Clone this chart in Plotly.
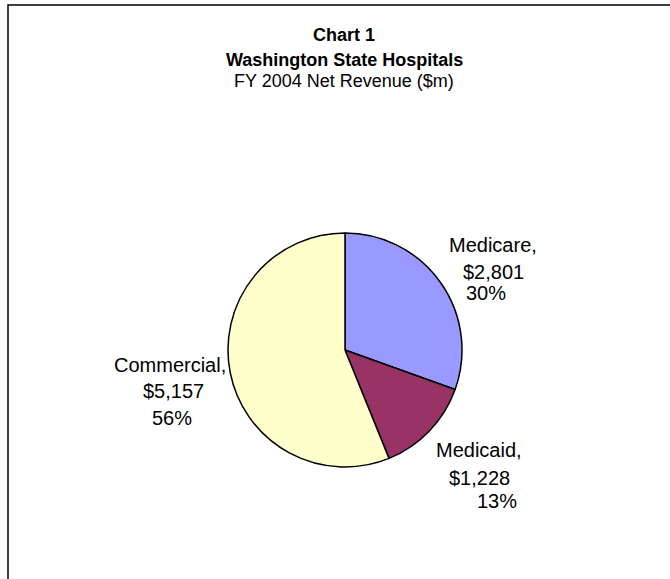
import plotly.graph_objects as go

# FY 2004 net revenue by payer, $ millions
payers = ["Medicare", "Medicaid", "Commercial"]
revenue = [2801, 1228, 5157]
colors = ["#9999FF", "#993366", "#FFFFCC"]

title_lines = ["<b>Chart 1</b>", "<b>Washington State Hospitals</b>", "FY 2004 Net Revenue ($m)"]

W, H = 670, 579
FONT = "Liberation Sans, Arial, sans-serif"

# pie centre and radius in pixels
cx, cy, r = 345, 350, 117

fig = go.Figure()
fig.add_trace(go.Pie(
    labels=payers,
    values=revenue,
    sort=False,
    direction="clockwise",
    rotation=0,
    marker=dict(colors=colors, line=dict(color="black", width=1.5)),
    textinfo="none",
    hoverinfo="label+value+percent",
    showlegend=False,
    domain=dict(x=[(cx - r) / W, (cx + r) / W], y=[1 - (cy + r) / H, 1 - (cy - r) / H]),
))

def px(x):
    return x / W

def py(y):
    return 1 - y / H

annotations = []
# title block
for text, y in zip(title_lines, [35, 60, 81.5]):
    annotations.append(dict(text=text, x=px(344), y=py(y), xref="paper", yref="paper",
                            xanchor="center", yanchor="middle", showarrow=False,
                            font=dict(family=FONT, size=18, color="black")))

total = sum(revenue)
# line centres (x, y) for each payer label: name, amount, percent
label_pos = {
    "Medicare": [(493, 245), (493, 272), (486, 293)],
    "Medicaid": [(479, 450), (479, 478), (497, 501)],
    "Commercial": [(170, 365), (173, 391), (172, 418)],
}
for name, val in zip(payers, revenue):
    lines = [f"{name},", f"${val:,}", f"{round(100 * val / total)}%"]
    for text, (x, y) in zip(lines, label_pos[name]):
        annotations.append(dict(text=text, x=px(x), y=py(y), xref="paper", yref="paper",
                                xanchor="center", yanchor="middle", showarrow=False,
                                font=dict(family=FONT, size=20, color="black")))

fig.update_layout(
    width=W, height=H,
    margin=dict(l=0, r=0, t=0, b=0),
    paper_bgcolor="white",
    plot_bgcolor="white",
    annotations=annotations,
    shapes=[dict(type="rect", xref="paper", yref="paper",
                 x0=px(8), x1=px(W + 10), y0=py(H + 10), y1=py(5),
                 line=dict(color="black", width=1.5))],
)

fig.write_html("out.html")
